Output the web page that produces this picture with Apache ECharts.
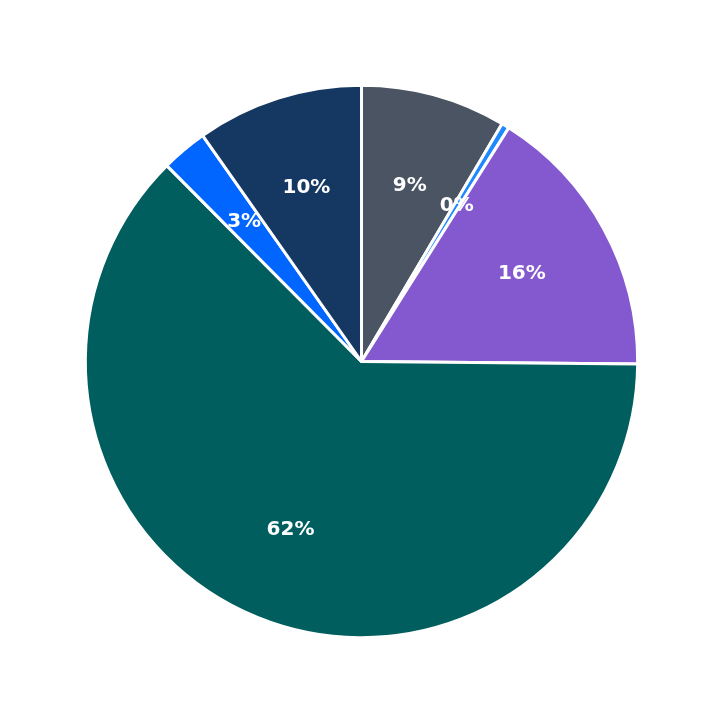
<!DOCTYPE html>
<html><head><meta charset="utf-8">
<script src="https://cdn.jsdelivr.net/npm/echarts@6/dist/echarts.min.js"></script>
<style>html,body{margin:0;padding:0;background:#fff}#c{width:723px;height:723px}</style>
</head><body><div id="c"></div>
<script>
const categories = ['A','B','C','D','E','F'];
const values = [8.5, 0.45, 16.2, 62.4, 2.7, 9.75];
const colors = ['#4a5463','#1e88ff','#8458cf','#005f5e','#0066ff','#153862'];
const data = categories.map((n,i)=>({name:n,value:values[i],itemStyle:{color:colors[i]}}));
const chart = echarts.init(document.getElementById('c'));
chart.setOption({
  animation:false,
  series:[
    {type:'pie',center:['50%','50%'],radius:[0,'76.4%'],startAngle:90,clockwise:true,
     data:data,itemStyle:{borderColor:'#fff',borderWidth:3},label:{show:false},labelLine:{show:false}},
    {type:'pie',center:['50%','50%'],radius:['23%','76.4%'],startAngle:90,clockwise:true,silent:true,z:5,
     data:categories.map((n,i)=>({name:n,value:values[i]})),
     itemStyle:{color:'rgba(0,0,0,0)'},
     label:{show:true,position:'inside',color:'#fff',fontSize:20,fontWeight:'bold',fontFamily:'DejaVu Sans',
       formatter:p=>Math.round(p.percent)+'%'},labelLine:{show:false}}
  ]
});
</script></body></html>
